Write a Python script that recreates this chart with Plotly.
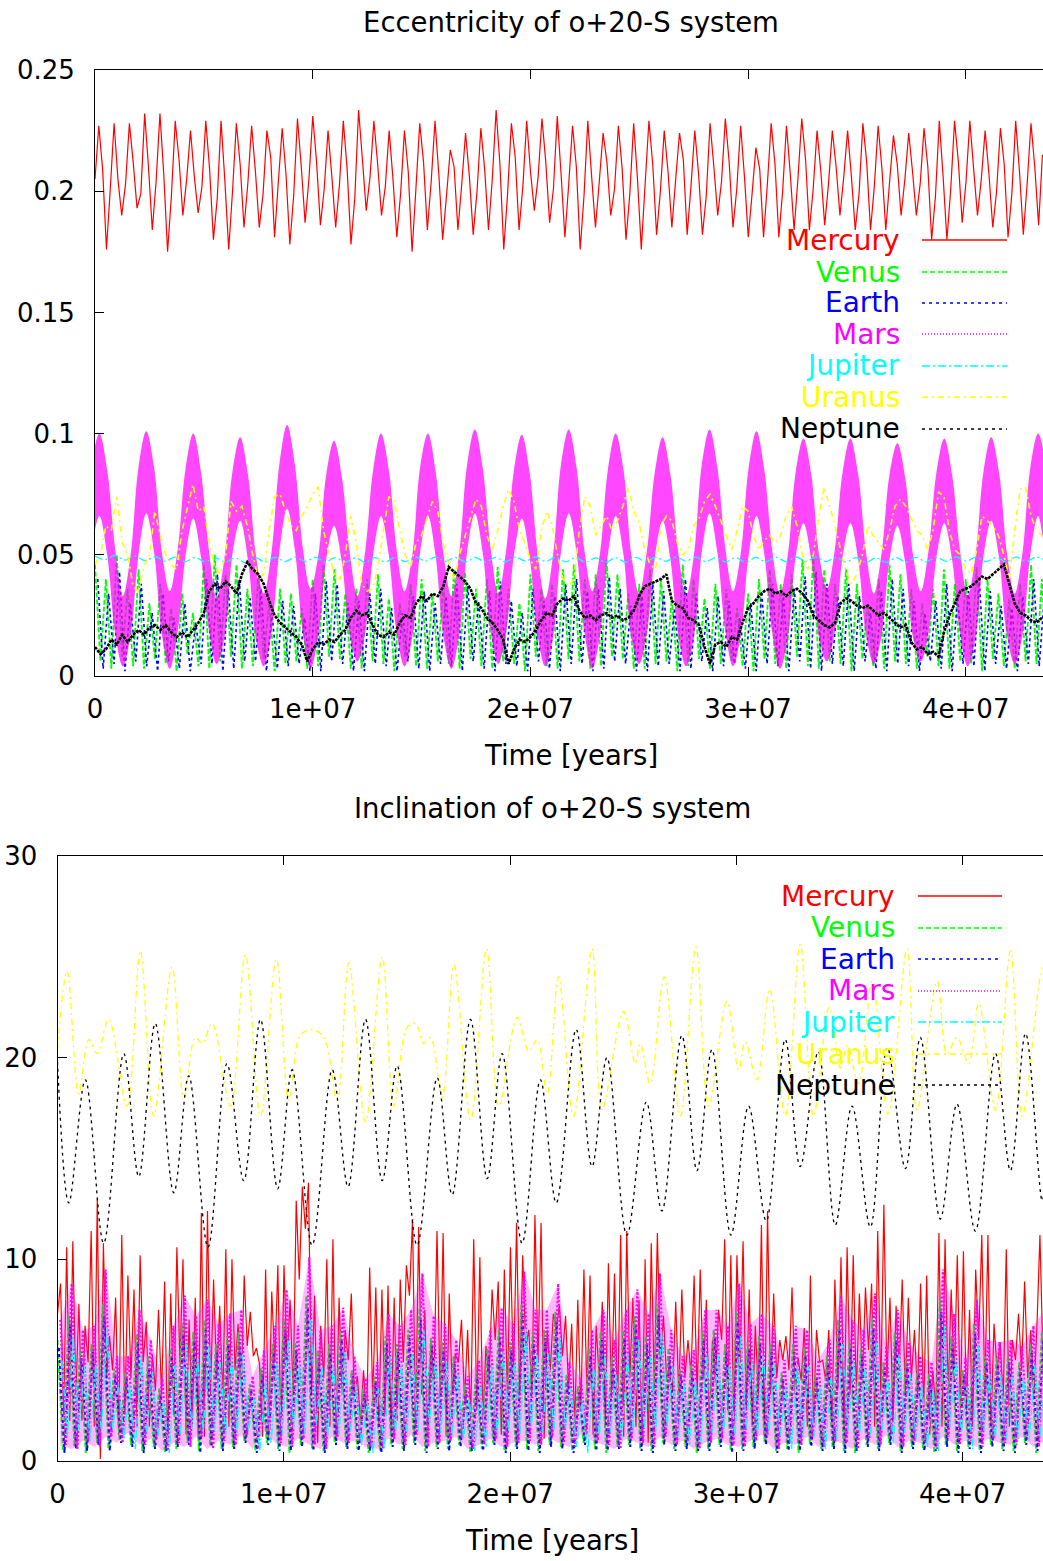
import plotly.graph_objects as go

# ------------------------------------------------------------------ labels
TITLE_ECC = "Eccentricity of o+20-S system"
TITLE_INC = "Inclination of o+20-S system"
X_TITLE = "Time [years]"
PLANETS = ["Mercury", "Venus", "Earth", "Mars", "Jupiter", "Uranus", "Neptune"]
X_TICKS = [0, 1e7, 2e7, 3e7, 4e7]
X_TICK_LABELS = ["0", "1e+07", "2e+07", "3e+07", "4e+07"]
ECC_TICKS = [0, 0.05, 0.1, 0.15, 0.2, 0.25]
ECC_TICK_LABELS = ["0", "0.05", "0.1", "0.15", "0.2", "0.25"]
INC_TICKS = [0, 10, 20, 30]
INC_TICK_LABELS = ["0", "10", "20", "30"]
T_MAX = 4.355e7

# ------------------------------------------------------------------ eccentricity data
MERC_ECC_DT = 1.755e5
mercury_ecc = [0.205,
    0.227, 0.209, 0.176, 0.201, 0.228, 0.205, 0.190, 0.203, 0.228, 0.212, 0.193, 0.199,
    0.232, 0.210, 0.184, 0.204, 0.232, 0.207, 0.175, 0.198, 0.229, 0.213, 0.190, 0.205,
    0.225, 0.206, 0.191, 0.202, 0.229, 0.209, 0.180, 0.197, 0.229, 0.204, 0.176, 0.200,
    0.228, 0.211, 0.185, 0.203, 0.227, 0.208, 0.185, 0.199, 0.225, 0.214, 0.181, 0.204,
    0.226, 0.207, 0.178, 0.198, 0.230, 0.210, 0.187, 0.205, 0.231, 0.212, 0.186, 0.201,
    0.225, 0.206, 0.185, 0.203, 0.229, 0.209, 0.178, 0.197, 0.2335, 0.213, 0.192, 0.206,
    0.229, 0.211, 0.190, 0.202, 0.225, 0.205, 0.181, 0.199, 0.225, 0.208, 0.175, 0.201,
    0.228, 0.212, 0.184, 0.204, 0.229, 0.207, 0.180, 0.198, 0.217, 0.210, 0.184, 0.203,
    0.224, 0.206, 0.182, 0.200, 0.226, 0.209, 0.184, 0.205, 0.2335, 0.211, 0.176, 0.199,
    0.228, 0.214, 0.184, 0.202, 0.229, 0.208, 0.192, 0.206, 0.230, 0.212, 0.187, 0.201,
    0.231, 0.207, 0.181, 0.203, 0.227, 0.210, 0.176, 0.198, 0.229, 0.206, 0.185, 0.204,
    0.224, 0.212, 0.190, 0.201, 0.227, 0.209, 0.180, 0.199, 0.228, 0.205, 0.176, 0.203,
    0.229, 0.211, 0.182, 0.200, 0.225, 0.208, 0.185, 0.205, 0.224, 0.213, 0.182, 0.202,
    0.225, 0.207, 0.182, 0.198, 0.228, 0.210, 0.190, 0.204, 0.230, 0.212, 0.185, 0.201,
    0.227, 0.206, 0.181, 0.199, 0.218, 0.209, 0.181, 0.203, 0.228, 0.211, 0.181, 0.200,
    0.227, 0.207, 0.184, 0.205, 0.230, 0.213, 0.184, 0.201, 0.225, 0.208, 0.186, 0.203,
    0.225, 0.210, 0.190, 0.206, 0.225, 0.206, 0.184, 0.199, 0.228, 0.212, 0.184, 0.202,
    0.227, 0.209, 0.184, 0.204, 0.223, 0.211, 0.190, 0.205, 0.224, 0.208, 0.190, 0.203,
    0.226, 0.210, 0.180, 0.198, 0.229, 0.206, 0.180, 0.201, 0.229, 0.212, 0.187, 0.204,
    0.229, 0.209, 0.190, 0.205, 0.225, 0.207, 0.185, 0.200, 0.226, 0.211, 0.181, 0.199,
    0.229, 0.208, 0.182, 0.203, 0.228, 0.210, 0.186, 0.215]

# successive local extremes of the fast Venus / Earth oscillation
VE_ECC_DT = 2.5e5
VENUS_ECC_T0 = 0.0
EARTH_ECC_T0 = 1.25e5
venus_ecc = [
    0.046, 0.006, 0.040, 0.003, 0.050, 0.008, 0.036, 0.004, 0.044, 0.003, 0.030, 0.007,
    0.038, 0.005, 0.028, 0.002, 0.034, 0.009, 0.026, 0.004, 0.046, 0.003, 0.050, 0.006,
    0.042, 0.008, 0.046, 0.003, 0.036, 0.004, 0.042, 0.007, 0.030, 0.002, 0.036, 0.005,
    0.034, 0.006, 0.028, 0.003, 0.040, 0.004, 0.046, 0.008, 0.044, 0.007, 0.034, 0.003,
    0.036, 0.003, 0.040, 0.006, 0.042, 0.005, 0.032, 0.002, 0.030, 0.008, 0.038, 0.004,
    0.040, 0.003, 0.034, 0.006, 0.038, 0.005, 0.044, 0.003, 0.043, 0.007, 0.036, 0.004,
    0.040, 0.003, 0.045, 0.006, 0.036, 0.005, 0.030, 0.002, 0.042, 0.008, 0.036, 0.004,
    0.038, 0.003, 0.044, 0.007, 0.046, 0.006, 0.040, 0.003, 0.042, 0.004, 0.048, 0.008,
    0.042, 0.007, 0.034, 0.003, 0.038, 0.003, 0.044, 0.005, 0.040, 0.006, 0.032, 0.002,
    0.046, 0.004, 0.040, 0.007, 0.032, 0.003, 0.038, 0.005, 0.036, 0.006, 0.028, 0.004,
    0.034, 0.002, 0.040, 0.007, 0.044, 0.005, 0.038, 0.003, 0.042, 0.008, 0.048, 0.004,
    0.050, 0.003, 0.044, 0.006, 0.038, 0.005, 0.044, 0.002, 0.038, 0.007, 0.030, 0.004,
    0.040, 0.003, 0.046, 0.006, 0.042, 0.005, 0.036, 0.003, 0.030, 0.008, 0.036, 0.004,
    0.044, 0.003, 0.038, 0.006, 0.040, 0.005, 0.045, 0.002, 0.040, 0.007, 0.034, 0.004,
    0.032, 0.003, 0.038, 0.006, 0.046, 0.005, 0.040, 0.003]
earth_ecc = [
    0.040, 0.003, 0.034, 0.005, 0.043, 0.002, 0.030, 0.006, 0.038, 0.004, 0.026, 0.002,
    0.034, 0.006, 0.024, 0.003, 0.030, 0.002, 0.022, 0.005, 0.040, 0.005, 0.042, 0.002,
    0.036, 0.003, 0.040, 0.006, 0.032, 0.006, 0.036, 0.002, 0.026, 0.003, 0.031, 0.004,
    0.029, 0.005, 0.024, 0.002, 0.034, 0.002, 0.039, 0.006, 0.038, 0.005, 0.030, 0.002,
    0.031, 0.002, 0.034, 0.005, 0.036, 0.004, 0.028, 0.002, 0.026, 0.006, 0.033, 0.003,
    0.035, 0.002, 0.030, 0.005, 0.033, 0.004, 0.038, 0.002, 0.037, 0.006, 0.031, 0.003,
    0.035, 0.002, 0.039, 0.005, 0.031, 0.004, 0.026, 0.002, 0.036, 0.006, 0.031, 0.003,
    0.033, 0.002, 0.038, 0.005, 0.040, 0.005, 0.035, 0.002, 0.036, 0.003, 0.041, 0.006,
    0.036, 0.005, 0.029, 0.002, 0.033, 0.002, 0.038, 0.004, 0.035, 0.005, 0.028, 0.002,
    0.040, 0.003, 0.034, 0.006, 0.028, 0.002, 0.033, 0.004, 0.031, 0.005, 0.024, 0.003,
    0.030, 0.002, 0.035, 0.005, 0.038, 0.004, 0.033, 0.002, 0.036, 0.006, 0.041, 0.003,
    0.043, 0.002, 0.038, 0.005, 0.033, 0.004, 0.038, 0.002, 0.033, 0.006, 0.026, 0.003,
    0.035, 0.002, 0.040, 0.005, 0.036, 0.004, 0.031, 0.002, 0.026, 0.006, 0.031, 0.003,
    0.038, 0.002, 0.033, 0.005, 0.035, 0.004, 0.039, 0.002, 0.035, 0.005, 0.029, 0.003,
    0.028, 0.002, 0.033, 0.005, 0.040, 0.004, 0.034, 0.002]

MARS_ECC_T0 = -1.594e5
MARS_ECC_DT = 3.594e5
mars_ecc_hi = [0.088,
    0.100, 0.085, 0.053, 0.033, 0.050, 0.086, 0.101, 0.086, 0.051, 0.035, 0.052, 0.085,
    0.100, 0.084, 0.052, 0.032, 0.049, 0.084, 0.0985, 0.083, 0.050, 0.034, 0.051, 0.087,
    0.1035, 0.087, 0.053, 0.036, 0.050, 0.083, 0.097, 0.082, 0.051, 0.033, 0.052, 0.085,
    0.100, 0.085, 0.052, 0.035, 0.050, 0.086, 0.100, 0.084, 0.050, 0.033, 0.051, 0.087,
    0.1017, 0.086, 0.053, 0.034, 0.052, 0.085, 0.0995, 0.084, 0.051, 0.032, 0.050, 0.087,
    0.1017, 0.086, 0.052, 0.035, 0.051, 0.085, 0.100, 0.085, 0.050, 0.034, 0.052, 0.084,
    0.0985, 0.083, 0.051, 0.033, 0.050, 0.087, 0.1017, 0.086, 0.053, 0.035, 0.051, 0.086,
    0.101, 0.085, 0.052, 0.034, 0.050, 0.084, 0.098, 0.083, 0.050, 0.036, 0.052, 0.084,
    0.098, 0.083, 0.051, 0.034, 0.051, 0.083, 0.096, 0.082, 0.050, 0.035, 0.052, 0.084,
    0.098, 0.083, 0.052, 0.033, 0.050, 0.084, 0.0985, 0.084, 0.051, 0.034, 0.051, 0.086,
    0.100, 0.085]
mars_ecc_lo = [0.052,
    0.066, 0.050, 0.018, 0.004, 0.017, 0.050, 0.067, 0.051, 0.017, 0.003, 0.018, 0.049,
    0.065, 0.049, 0.019, 0.005, 0.016, 0.050, 0.064, 0.048, 0.016, 0.004, 0.018, 0.051,
    0.069, 0.052, 0.018, 0.003, 0.017, 0.048, 0.062, 0.047, 0.017, 0.006, 0.018, 0.050,
    0.066, 0.050, 0.018, 0.004, 0.016, 0.051, 0.066, 0.049, 0.016, 0.003, 0.017, 0.051,
    0.067, 0.051, 0.019, 0.005, 0.018, 0.050, 0.065, 0.049, 0.017, 0.004, 0.016, 0.051,
    0.067, 0.051, 0.018, 0.003, 0.017, 0.050, 0.066, 0.050, 0.016, 0.005, 0.018, 0.049,
    0.064, 0.048, 0.017, 0.004, 0.016, 0.051, 0.067, 0.051, 0.019, 0.004, 0.017, 0.050,
    0.066, 0.050, 0.018, 0.003, 0.016, 0.049, 0.063, 0.048, 0.016, 0.006, 0.018, 0.049,
    0.063, 0.048, 0.017, 0.005, 0.017, 0.048, 0.062, 0.047, 0.016, 0.006, 0.018, 0.049,
    0.063, 0.048, 0.018, 0.004, 0.016, 0.049, 0.064, 0.049, 0.017, 0.005, 0.017, 0.050,
    0.066, 0.050]

JUP_ECC_DT = 4.6e5
jupiter_ecc = [0.0495, 0.0480, 0.0498, 0.0478, 0.0494, 0.0476, 0.0492, 0.0474, 0.0490, 0.0472,
               0.0489, 0.0471, 0.0488, 0.0470, 0.0487, 0.0468, 0.0488, 0.0470, 0.0489, 0.0472,
               0.0490, 0.0473, 0.0489, 0.0471, 0.0488, 0.0470, 0.0487, 0.0469, 0.0488, 0.0471,
               0.0490, 0.0472, 0.0491, 0.0474, 0.0490, 0.0473, 0.0489, 0.0471, 0.0488, 0.0470,
               0.0489, 0.0472, 0.0490, 0.0474, 0.0491, 0.0473, 0.0489, 0.0471, 0.0488, 0.0470,
               0.0487, 0.0469, 0.0488, 0.0470, 0.0489, 0.0472, 0.0490, 0.0473, 0.0491, 0.0474,
               0.0490, 0.0472, 0.0489, 0.0471, 0.0488, 0.0470, 0.0489, 0.0471, 0.0490, 0.0472,
               0.0491, 0.0473, 0.0490, 0.0472, 0.0489, 0.0470, 0.0488, 0.0469, 0.0487, 0.0468,
               0.0488, 0.0470, 0.0489, 0.0471, 0.0490, 0.0473, 0.0491, 0.0474, 0.0490, 0.0472,
               0.0489, 0.0471, 0.0490, 0.0473, 0.0491, 0.0474]

UN_ECC_DT = 2.5e5
uranus_ecc = [0.046, 0.050, 0.062, 0.060, 0.074, 0.055, 0.050, 0.037, 0.035, 0.045,
              0.050, 0.068, 0.058, 0.050, 0.046, 0.044, 0.060, 0.070, 0.079, 0.068,
              0.070, 0.055, 0.045, 0.042, 0.050, 0.072, 0.068, 0.070, 0.062, 0.050,
              0.040, 0.042, 0.060, 0.074, 0.075, 0.068, 0.062, 0.060, 0.066, 0.070,
              0.075, 0.078, 0.060, 0.050, 0.042, 0.040, 0.050, 0.066, 0.055, 0.038,
              0.035, 0.036, 0.045, 0.060, 0.074, 0.072, 0.060, 0.050, 0.045, 0.055,
              0.058, 0.065, 0.072, 0.068, 0.055, 0.046, 0.040, 0.050, 0.058, 0.065,
              0.073, 0.070, 0.058, 0.052, 0.060, 0.070, 0.077, 0.072, 0.060, 0.055,
              0.048, 0.044, 0.060, 0.068, 0.062, 0.050, 0.040, 0.037, 0.040,
              0.060, 0.074, 0.070, 0.058, 0.062, 0.066, 0.060, 0.064, 0.070, 0.078,
              0.068, 0.063, 0.052, 0.046, 0.044, 0.062, 0.066, 0.064, 0.055, 0.050,
              0.052, 0.062, 0.065, 0.072, 0.075, 0.070, 0.064, 0.058, 0.052, 0.060,
              0.070, 0.068, 0.058, 0.052, 0.056, 0.058, 0.055, 0.058, 0.066, 0.070,
              0.062, 0.050, 0.044, 0.050, 0.066, 0.078, 0.070, 0.062, 0.052, 0.043,
              0.038, 0.042, 0.050, 0.062, 0.058, 0.055, 0.052, 0.060, 0.070, 0.073,
              0.070, 0.065, 0.060, 0.058, 0.052, 0.060, 0.076, 0.074, 0.060, 0.052,
              0.050, 0.044, 0.042, 0.052, 0.066, 0.064, 0.062, 0.058, 0.050, 0.040,
              0.060, 0.077, 0.078, 0.066, 0.060, 0.058]
neptune_ecc = [0.012, 0.009, 0.011, 0.015, 0.013, 0.017, 0.014, 0.017, 0.019, 0.017,
               0.020, 0.021, 0.019, 0.021, 0.018, 0.016, 0.018, 0.016, 0.019, 0.022,
               0.026, 0.035, 0.038, 0.036, 0.039, 0.037, 0.034, 0.042, 0.047, 0.044,
               0.042, 0.038, 0.031, 0.025, 0.022, 0.020, 0.018, 0.016, 0.013, 0.006,
               0.011, 0.014, 0.013, 0.015, 0.014, 0.017, 0.019, 0.024, 0.027, 0.025,
               0.026, 0.021, 0.017, 0.016, 0.018, 0.017, 0.022, 0.025, 0.024, 0.030,
               0.033, 0.031, 0.034, 0.033, 0.037, 0.045, 0.043, 0.041, 0.039, 0.036,
               0.030, 0.028, 0.024, 0.022, 0.019, 0.015, 0.005, 0.011, 0.015, 0.014,
               0.016, 0.019, 0.023, 0.026, 0.025, 0.030, 0.032, 0.031, 0.033,
               0.027, 0.024, 0.025, 0.023, 0.025, 0.026, 0.024, 0.025, 0.023, 0.024,
               0.027, 0.033, 0.037, 0.038, 0.039, 0.040, 0.042, 0.031, 0.029, 0.028,
               0.024, 0.023, 0.021, 0.012, 0.005, 0.013, 0.014, 0.012, 0.016, 0.015,
               0.022, 0.028, 0.030, 0.033, 0.035, 0.036, 0.034, 0.035, 0.033, 0.035,
               0.036, 0.034, 0.031, 0.025, 0.023, 0.021, 0.020, 0.022, 0.030, 0.032,
               0.031, 0.029, 0.028, 0.029, 0.027, 0.025, 0.026, 0.024, 0.022, 0.020,
               0.021, 0.014, 0.011, 0.012, 0.009, 0.010, 0.008, 0.018, 0.025, 0.030,
               0.035, 0.036, 0.037, 0.039, 0.041, 0.040, 0.042, 0.044, 0.046, 0.038,
               0.030, 0.026, 0.025, 0.023, 0.022, 0.024]

# ------------------------------------------------------------------ inclination data
mercury_inc = [
    7.3, 8.8, 2.3, 10.6, 2.0, 10.9, 3.3, 7.8, 2.0, 6.7,
    4.9, 11.4, 1.7, 13.0, 0.1, 10.8, 4.1, 6.2, 4.5, 8.1,
    1.3, 11.2, 2.3, 9.2, 4.1, 8.5, 1.7, 10.2, 4.9, 6.9,
    1.7, 5.3, 3.5, 7.5, 3.3, 8.9, 0.9, 8.3, 2.3, 10.6,
    4.9, 10.0, 1.3, 7.0, 1.7, 8.1, 1.2, 12.3, 1.2, 12.4,
    3.3, 9.0, 4.1, 7.7, 3.0, 10.5, 1.7, 10.0, 4.5, 6.8,
    3.3, 9.2, 5.7, 7.4, 5.2, 5.6, 4.8, 1.2, 9.5, 1.2,
    8.4, 4.9, 9.7, 1.2, 9.7, 4.9, 8.0, 3.3, 12.9, 9.0,
    13.6, 11.5, 13.8, 3.3, 8.2, 0.9, 6.7, 4.1, 10.0, 1.7,
    11.0, 1.2, 8.1, 3.3, 6.5, 5.0, 8.3, 3.3, 4.2, 1.9,
    4.5, 2.0, 9.6, 3.0, 8.6, 1.7, 8.5, 2.3, 8.7, 1.3,
    8.1, 2.0, 9.0, 4.9, 9.7, 8.2, 12.0, 1.7, 11.6, 3.3,
    7.5, 1.7, 5.7, 4.0, 11.4, 3.3, 11.3, 1.2, 8.3, 3.3,
    5.3, 4.9, 7.0, 3.0, 6.5, 2.0, 11.0, 2.5, 10.1, 2.0,
    5.7, 4.0, 8.5, 6.0, 8.9, 1.3, 9.5, 3.3, 10.6, 4.1,
    11.8, 3.3, 10.2, 5.7, 6.5, 3.3, 12.2, 4.9, 11.8,
    1.1, 6.5, 4.5, 7.3, 6.6, 7.7, 5.2, 7.2, 3.6, 6.8,
    1.7, 8.0, 2.5, 9.5, 3.3, 9.2, 1.3, 6.7, 4.1, 7.9,
    1.7, 9.8, 3.3, 9.3, 2.5, 11.2, 1.2, 11.4, 4.1, 8.1,
    1.7, 8.0, 1.2, 10.0, 0.9, 10.8, 3.6, 11.3, 4.9, 7.2,
    4.1, 4.7, 3.5, 7.9, 3.3, 8.5, 4.1, 6.0, 4.3, 9.2,
    3.3, 9.5, 4.1, 8.0, 2.0, 6.0, 3.9, 7.5, 6.0, 11.0,
    2.5, 10.2, 1.7, 10.2, 4.9, 10.9, 2.5, 8.5, 1.7, 6.7,
    3.3, 11.7, 1.2, 12.4, 3.3, 8.3, 4.1, 6.0, 5.0, 6.2,
    4.5, 8.6, 3.3, 5.1, 4.0, 6.6, 1.7, 9.2, 2.0, 6.5,
    4.9, 5.0, 4.0, 6.5, 1.7, 9.0, 3.6, 10.1, 1.7, 10.6,
    3.3, 10.2, 3.3, 8.3, 4.1, 8.6, 5.5, 8.8, 1.7, 11.4,
    3.3, 12.7, 4.1, 8.1, 2.0, 7.7, 4.5, 9.0, 3.3, 8.1,
    4.1, 6.5, 3.3, 8.8, 2.5, 9.2, 1.3, 4.5, 2.5, 11.3,
    1.7, 11.0, 3.3, 8.5, 4.0, 10.2, 2.5, 10.4, 2.5, 7.5,
    1.7, 9.5, 6.0, 11.2, 3.3, 11.2, 1.7, 6.8, 4.5, 5.9,
    3.0, 10.5, 1.7, 6.0, 5.0, 7.3, 4.5, 8.9, 4.1, 6.5,
    3.3, 6.6, 11.2, 5.0]

# upper / lower extremes of the fast inclination oscillations, one pair every 0.5 Myr
BAND_INC_DT = 5.0e5
mars_inc_hi = [7.0, 8.8, 6.5, 6.7, 9.5, 5.2, 5.2, 7.5, 6.0, 4.1,
               6.7, 8.2, 7.2, 8.0, 6.8, 7.3, 7.5, 4.2, 5.5, 6.7,
               8.5, 6.7, 10.1, 6.5, 6.7, 7.6, 5.2, 4.1, 4.9, 7.3,
               6.7, 7.5, 9.3, 7.2, 6.8, 6.0, 4.2, 5.0, 6.5, 7.6,
               6.8, 9.4, 7.5, 7.5, 8.8,
               4.9, 4.1, 6.5, 7.5, 6.0, 7.5, 8.5, 7.3, 9.3, 6.5,
               5.2, 5.5, 7.5, 7.5, 6.7, 8.8, 6.8, 7.3, 6.7, 5.0,
               6.7, 6.5, 5.0, 6.0, 8.2, 7.0, 6.5, 8.3, 5.7, 7.5,
               5.9, 5.2, 4.9, 9.5, 7.3, 5.1, 8.0, 6.0, 5.9, 6.0,
               5.7, 6.7, 7.5]
mars_inc_lo = [0.8, 0.6, 1.0, 0.7, 1.2, 0.9, 1.4, 0.8, 1.1, 0.5,
               0.9, 0.7, 1.2, 0.6, 1.0, 0.8, 1.3, 0.6, 1.5, 0.9,
               0.7, 1.1, 0.8, 0.6, 1.2, 0.9, 1.0, 0.7, 0.6, 1.1,
               0.8, 1.3, 0.7, 0.9, 1.0, 1.2, 0.6, 0.8, 1.1, 0.7,
               0.9, 1.0, 0.8, 1.2, 0.9, 0.7, 1.3, 1.0, 0.8, 0.6,
               1.1, 0.9, 0.7, 1.2, 0.8, 1.0, 0.6, 0.9, 1.1, 0.8,
               0.7, 1.0, 1.3, 0.6, 0.9, 0.8, 1.2, 0.7, 1.0, 0.9,
               0.6, 1.1, 0.8, 1.3, 0.7, 1.0, 0.9, 0.6, 1.2, 0.8,
               1.0, 0.7, 1.1, 0.9, 0.8, 1.2, 0.7, 1.0]
venus_inc_hi = [6.0, 7.2, 5.5, 5.8, 7.8, 4.6, 4.4, 6.3, 5.2, 3.6,
                5.6, 6.8, 6.4, 7.0, 5.8, 6.2, 6.4, 3.8, 4.6, 5.8,
                7.0, 5.9, 8.2, 5.5, 5.8, 6.4, 4.5, 3.6, 4.2, 6.2,
                5.8, 6.5, 7.6, 6.1, 5.9, 5.2, 3.8, 4.4, 5.6, 6.5,
                5.9, 7.8, 6.4, 6.5, 7.4, 4.3, 3.7, 5.6, 6.4, 5.2,
                6.5, 7.2, 6.2, 7.8, 5.6, 4.6, 4.8, 6.4, 6.5, 5.8,
                7.4, 5.9, 6.2, 5.8, 4.4, 5.8, 5.6, 4.4, 5.2, 7.0,
                6.0, 5.6, 7.1, 4.9, 6.4, 5.1, 4.6, 4.3, 8.0, 6.2,
                4.5, 6.8, 5.2, 5.1, 5.2, 4.9, 5.8, 6.4]
venus_inc_lo = [0.5, 0.7, 0.4, 0.9, 0.6, 1.0, 0.8, 0.5, 0.7, 0.4,
                0.6, 0.9, 0.5, 0.8, 0.6, 0.7, 1.0, 0.5, 0.9, 0.6,
                0.4, 0.8, 0.6, 0.5, 0.9, 0.7, 0.6, 0.4, 0.5, 0.8,
                0.6, 0.9, 0.5, 0.7, 0.6, 0.8, 0.4, 0.6, 0.9, 0.5,
                0.7, 0.6, 0.5, 0.8, 0.7, 0.5, 0.9, 0.6, 0.4, 0.7,
                0.8, 0.6, 0.5, 0.9, 0.6, 0.7, 0.4, 0.6, 0.8, 0.5,
                0.6, 0.7, 0.9, 0.5, 0.6, 0.4, 0.8, 0.6, 0.7, 0.5,
                0.4, 0.8, 0.6, 0.9, 0.5, 0.7, 0.6, 0.4, 0.8, 0.5,
                0.7, 0.5, 0.8, 0.6, 0.5, 0.9, 0.4, 0.6]
earth_inc_hi = [5.6, 6.8, 5.1, 5.4, 7.2, 4.2, 4.1, 5.9, 4.8, 3.3,
                5.2, 6.3, 6.0, 6.5, 5.4, 5.8, 5.9, 3.5, 4.3, 5.4,
                6.5, 5.5, 7.6, 5.1, 5.4, 6.0, 4.2, 3.3, 3.9, 5.8,
                5.4, 6.1, 7.0, 5.7, 5.5, 4.8, 3.5, 4.1, 5.2, 6.1,
                5.5, 7.2, 6.0, 6.1, 6.9, 4.0, 3.4, 5.2, 6.0, 4.8,
                6.1, 6.7, 5.8, 7.2, 5.2, 4.3, 4.5, 6.0, 6.1, 5.4,
                6.9, 5.5, 5.8, 5.4, 4.1, 5.4, 5.2, 4.1, 4.8, 6.5,
                5.6, 5.2, 6.6, 4.6, 6.0, 4.8, 4.3, 4.0, 7.4, 5.8,
                4.2, 6.3, 4.8, 4.8, 4.9, 4.6, 5.4, 6.0]
earth_inc_lo = [0.4, 0.6, 0.5, 0.8, 0.5, 0.9, 0.7, 0.4, 0.6, 0.5,
                0.7, 0.8, 0.4, 0.7, 0.5, 0.6, 0.9, 0.4, 0.8, 0.5,
                0.5, 0.7, 0.5, 0.4, 0.8, 0.6, 0.5, 0.5, 0.4, 0.7,
                0.5, 0.8, 0.4, 0.6, 0.5, 0.7, 0.5, 0.5, 0.8, 0.4,
                0.6, 0.5, 0.4, 0.7, 0.6, 0.4, 0.8, 0.5, 0.5, 0.6,
                0.7, 0.5, 0.4, 0.8, 0.5, 0.6, 0.5, 0.5, 0.7, 0.4,
                0.5, 0.6, 0.8, 0.4, 0.5, 0.5, 0.7, 0.5, 0.6, 0.4,
                0.5, 0.7, 0.5, 0.8, 0.4, 0.6, 0.5, 0.5, 0.7, 0.4,
                0.6, 0.4, 0.7, 0.5, 0.4, 0.8, 0.5, 0.5]
jupiter_inc_hi = [5.0, 6.2, 4.7, 4.8, 6.6, 3.8, 3.8, 5.3, 4.4, 3.0,
                  4.8, 5.8, 5.2, 5.7, 4.9, 5.2, 5.3, 3.1, 4.0, 4.8,
                  6.0, 4.8, 7.0, 4.7, 4.8, 5.4, 3.8, 3.0, 3.6, 5.2,
                  4.8, 5.3, 6.5, 5.1, 4.9, 4.3, 3.1, 3.7, 4.7, 5.4,
                  4.9, 6.6, 5.3, 5.3, 6.2, 3.6, 3.0, 4.7, 5.3, 4.3,
                  5.3, 6.0, 5.2, 6.5, 4.7, 3.8, 4.0, 5.3, 5.3, 4.8,
                  6.2, 4.9, 5.2, 4.8, 3.7, 4.8, 4.7, 3.7, 4.3, 5.8,
                  5.0, 4.7, 5.9, 4.1, 5.3, 4.3, 3.8, 3.6, 6.7, 5.2,
                  3.7, 5.7, 4.3, 4.3, 4.3, 4.1, 4.8, 5.3]
jupiter_inc_lo = [1.2, 1.5, 1.0, 1.4, 1.6, 1.1, 0.6, 1.3, 1.2, 0.4,
                  1.3, 1.6, 1.4, 1.5, 1.2, 1.4, 1.5, 0.5, 0.9, 1.3,
                  1.6, 1.3, 1.8, 1.2, 1.3, 1.4, 0.8, 0.4, 0.6, 1.4,
                  1.3, 1.5, 1.7, 1.4, 1.3, 1.1, 0.5, 0.7, 1.2, 1.5,
                  1.3, 1.7, 1.4, 1.4, 1.6, 0.7, 0.4, 1.2, 1.4, 1.1,
                  1.4, 1.6, 1.4, 1.7, 1.2, 0.8, 0.9, 1.4, 1.4, 1.2,
                  1.6, 1.3, 1.4, 1.2, 0.6, 1.2, 1.2, 0.6, 1.1, 1.5,
                  1.3, 1.2, 1.5, 0.9, 1.4, 1.1, 0.7, 0.5, 1.7, 1.4,
                  0.6, 1.5, 1.1, 1.1, 1.1, 1.0, 1.2, 1.4]
BAND_OFFSETS = {"Venus": 0.0, "Earth": 0.6e5, "Mars": 1.25e5, "Jupiter": 1.9e5}

# times in Myr, inclination in degrees
uranus_inc_t = [0.0, 0.42, 0.94, 1.38, 1.75, 2.26, 3.07, 3.66, 4.25, 5.06,
                5.58, 6.09, 6.39, 6.83, 7.64, 8.30, 8.97, 9.67, 10.22, 10.73,
                11.25, 11.77, 12.36, 12.87, 13.61, 14.35, 14.86, 15.45, 15.82, 16.19,
                16.48, 17.00, 17.52, 18.25, 18.96, 19.50, 20.31, 20.83, 21.20, 21.64,
                22.14, 22.80, 23.62, 24.06, 25.01, 25.53, 25.75, 26.19, 26.81, 27.52,
                28.21, 28.77, 29.58, 30.10, 30.39, 30.91, 31.47, 32.16, 32.82, 33.41,
                34.10, 34.60, 34.90, 35.40, 36.00, 36.70, 37.54, 37.98, 38.87, 39.31,
                39.75, 40.27, 40.71, 41.45, 42.11, 42.63, 43.43, 43.60]
uranus_inc = [20.4, 24.3, 18.2, 20.9, 20.2, 21.9, 17.6, 25.3, 17.1, 24.5,
              18.0, 21.0, 20.7, 21.7, 17.6, 25.1, 17.1, 24.9, 17.9, 21.1,
              21.4, 21.0, 17.9, 24.7, 16.8, 25.0, 17.6, 21.5, 21.7, 20.7,
              21.0, 18.0, 24.6, 16.9, 25.4, 17.6, 22.0, 20.3, 20.9, 18.2,
              24.0, 17.1, 25.4, 17.4, 22.3, 19.7, 20.7, 18.7, 24.0, 17.1,
              25.5, 17.6, 22.8, 19.4, 20.8, 18.9, 23.4, 17.1, 25.6, 17.1,
              22.5, 19.5, 20.6, 18.7, 23.8, 17.2, 25.4, 17.4, 23.8, 20.2,
              21.0, 19.7, 22.7, 17.4, 25.3, 17.1, 24.0, 24.6]
neptune_inc_t = [0.0, 0.50, 1.23, 2.04, 2.93, 3.59, 4.32, 5.14, 5.80, 6.65,
                 7.49, 8.23, 8.97, 9.73, 10.37, 11.25, 12.14, 12.84, 13.61, 14.35,
                 15.01, 15.89, 16.78, 17.44, 18.25, 18.99, 19.65, 20.53, 21.34, 22.04,
                 22.92, 23.62, 24.28, 25.16, 26.02, 26.71, 27.59, 28.26, 28.92, 29.76,
                 30.54, 31.32, 32.16, 32.82, 33.62, 34.37, 35.11, 35.92, 36.67, 37.47,
                 38.13, 39.01, 39.75, 40.56, 41.45, 42.11, 42.78, 43.51, 43.60]
neptune_inc = [19.8, 12.8, 18.9, 10.8, 20.2, 14.1, 21.7, 13.3, 19.1, 10.6,
               19.7, 13.9, 21.9, 13.5, 19.4, 10.7, 19.4, 13.6, 21.9, 13.9,
               19.6, 10.7, 19.0, 13.2, 21.9, 14.0, 20.2, 10.8, 18.9, 12.8,
               21.4, 14.6, 20.0, 11.2, 17.8, 12.4, 21.1, 14.4, 20.4, 11.2,
               17.6, 11.9, 20.9, 14.6, 20.3, 11.7, 17.6, 11.6, 20.5, 14.5,
               21.0, 12.0, 17.7, 11.4, 20.2, 14.4, 21.2, 12.9, 13.3]

# ------------------------------------------------------------------ styles
COL = {"Mercury": "#ff0000", "Venus": "#00ff00", "Earth": "#0000ff", "Mars": "#ff00ff",
       "Jupiter": "#00ffff", "Uranus": "#ffff00", "Neptune": "#000000"}
DASH = {"Mercury": "solid", "Venus": "5px,3px", "Earth": "3px,4px", "Mars": "1px,2px",
        "Jupiter": "8px,3px,2px,3px", "Uranus": "6px,4px,2px,4px", "Neptune": "3px,4px"}
FONT = "DejaVu Sans"
W, H = 1043, 1561


def grid(n, dt, t0=0.0):
    return [t0 + i * dt for i in range(n)]


def interleave(hi, lo):
    out = []
    for h, l in zip(hi, lo):
        out += [h, l]
    return out


fig = go.Figure()

# ---- eccentricity panel
fig.add_trace(go.Scatter(x=grid(len(mercury_ecc), MERC_ECC_DT), y=mercury_ecc, mode="lines",
                         line=dict(color=COL["Mercury"], width=1.2), xaxis="x", yaxis="y"))
fig.add_trace(go.Scatter(x=grid(len(venus_ecc), VE_ECC_DT, VENUS_ECC_T0), y=venus_ecc, mode="lines",
                         line=dict(color=COL["Venus"], width=1.8, dash="5px,2px"), xaxis="x", yaxis="y"))
fig.add_trace(go.Scatter(x=grid(len(earth_ecc), VE_ECC_DT, EARTH_ECC_T0), y=earth_ecc, mode="lines",
                         line=dict(color=COL["Earth"], width=1.6, dash="3px,3px"), xaxis="x", yaxis="y"))
t_ma = grid(len(mars_ecc_hi), MARS_ECC_DT, MARS_ECC_T0)
fig.add_trace(go.Scatter(
    x=t_ma + t_ma[::-1], y=mars_ecc_hi + mars_ecc_lo[::-1], mode="lines", fill="toself",
    line=dict(width=0, color=COL["Mars"], shape="spline"), fillcolor="rgba(255,0,255,0.72)",
    xaxis="x", yaxis="y"))
fig.add_trace(go.Scatter(x=grid(len(jupiter_ecc), JUP_ECC_DT), y=jupiter_ecc, mode="lines",
                         line=dict(color=COL["Jupiter"], width=1.3, dash=DASH["Jupiter"], shape="spline"),
                         xaxis="x", yaxis="y"))
fig.add_trace(go.Scatter(x=grid(len(uranus_ecc), UN_ECC_DT), y=uranus_ecc, mode="lines",
                         line=dict(color=COL["Uranus"], width=1.6, dash=DASH["Uranus"]),
                         xaxis="x", yaxis="y"))
fig.add_trace(go.Scatter(x=grid(len(neptune_ecc), UN_ECC_DT), y=neptune_ecc, mode="lines",
                         line=dict(color=COL["Neptune"], width=2.6, dash="3px,1px"),
                         xaxis="x", yaxis="y"))

# ---- inclination panel
n_mi = len(mercury_inc)
fig.add_trace(go.Scatter(x=grid(n_mi, T_MAX / (n_mi - 1)), y=mercury_inc, mode="lines",
                         line=dict(color=COL["Mercury"], width=1.2), xaxis="x2", yaxis="y2"))
bands = (("Venus", venus_inc_hi, venus_inc_lo, 2.0, "5px,2px"),
         ("Earth", earth_inc_hi, earth_inc_lo, 2.0, "3px,3px"),
         ("Mars", mars_inc_hi, mars_inc_lo, 2.2, "2px,2px"),
         ("Jupiter", jupiter_inc_hi, jupiter_inc_lo, 1.3, "8px,2px,2px,2px"))
for name, hi, lo, wid, dash in bands:
    if name == "Mars":
        tb = grid(len(hi), BAND_INC_DT, BAND_OFFSETS[name])
        fig.add_trace(go.Scatter(x=tb + tb[::-1], y=hi + lo[::-1], mode="lines", fill="toself",
                                 line=dict(width=0, color=COL[name]),
                                 fillcolor="rgba(255,0,255,0.28)", xaxis="x2", yaxis="y2"))
    ys = interleave(hi, lo)
    fig.add_trace(go.Scatter(x=grid(len(ys), BAND_INC_DT / 2, BAND_OFFSETS[name]), y=ys, mode="lines",
                             line=dict(color=COL[name], width=wid, dash=dash),
                             xaxis="x2", yaxis="y2"))
fig.add_trace(go.Scatter(x=[t * 1e6 for t in uranus_inc_t], y=uranus_inc, mode="lines",
                         line=dict(color=COL["Uranus"], width=1.3, dash=DASH["Uranus"], shape="spline",
                                   smoothing=1.0), xaxis="x2", yaxis="y2"))
fig.add_trace(go.Scatter(x=[t * 1e6 for t in neptune_inc_t], y=neptune_inc, mode="lines",
                         line=dict(color=COL["Neptune"], width=1.3, dash=DASH["Neptune"], shape="spline",
                                   smoothing=1.0), xaxis="x2", yaxis="y2"))
fig.update_traces(hoverinfo="skip")

# ------------------------------------------------------------------ layout
def px(x, y):
    return x / W, 1 - y / H


axis_common = dict(ticks="inside", ticklen=9, tickwidth=1, tickcolor="black", showline=True,
                   linecolor="black", linewidth=1, showgrid=False, zeroline=False, automargin=False,
                   tickfont=dict(family=FONT, size=26, color="black"))

fig.update_layout(
    template="none",
    width=W, height=H, margin=dict(l=0, r=0, t=0, b=0, pad=0, autoexpand=False), showlegend=False,
    paper_bgcolor="white", plot_bgcolor="white",
    font=dict(family=FONT, size=26, color="black"),
    xaxis=dict(domain=[95 / W, 1], range=[0, T_MAX], tickvals=X_TICKS, ticktext=X_TICK_LABELS,
               mirror="ticks", anchor="y", ticklabelstandoff=10, **axis_common),
    yaxis=dict(domain=[1 - 676 / H, 1 - 70 / H], range=[0, 0.25], tickvals=ECC_TICKS,
               ticktext=ECC_TICK_LABELS, mirror=False, anchor="x", ticklabelstandoff=14, **axis_common),
    xaxis2=dict(domain=[57.5 / W, 1], range=[0, T_MAX], tickvals=X_TICKS, ticktext=X_TICK_LABELS,
                mirror="ticks", anchor="y2", ticklabelstandoff=10, **axis_common),
    yaxis2=dict(domain=[1 - 1461 / H, 1 - 856 / H], range=[0, 30], tickvals=INC_TICKS,
                ticktext=INC_TICK_LABELS, mirror=False, anchor="x2", ticklabelstandoff=14, **axis_common),
)

ann = []
shapes = []


def text(x, y, s, color="black", xanchor="center", size=27):
    xx, yy = px(x, y)
    ann.append(dict(x=xx, y=yy, xref="paper", yref="paper", text=s, showarrow=False,
                    xanchor=xanchor, yanchor="middle", font=dict(family=FONT, size=size, color=color)))


text(571, 22, TITLE_ECC, size=27.5)
text(571, 755, X_TITLE, size=27.5)
text(552, 808, TITLE_INC, size=27.5)
text(552, 1540, X_TITLE, size=27.5)

leg_top_y = [240, 272, 303, 334, 366, 397, 429]
leg_bot_y = [896, 928, 959, 991, 1022, 1054, 1085]
for name, yt, yb in zip(PLANETS, leg_top_y, leg_bot_y):
    text(902, yt, name, COL[name], "right", 28)
    text(897, yb, name, COL[name], "right", 28)
    for (x0, x1, yy) in ((922, 1007, yt), (918, 1002, yb)):
        a0, b0 = px(x0, yy)
        a1, _ = px(x1, yy)
        shapes.append(dict(type="line", xref="paper", yref="paper", x0=a0, x1=a1, y0=b0, y1=b0,
                           line=dict(color=COL[name], width=1.5, dash=DASH[name])))

fig.update_layout(annotations=ann, shapes=shapes)
fig.write_html("out.html",
               post_script="document.body.style.margin='0';document.body.style.padding='0';")
